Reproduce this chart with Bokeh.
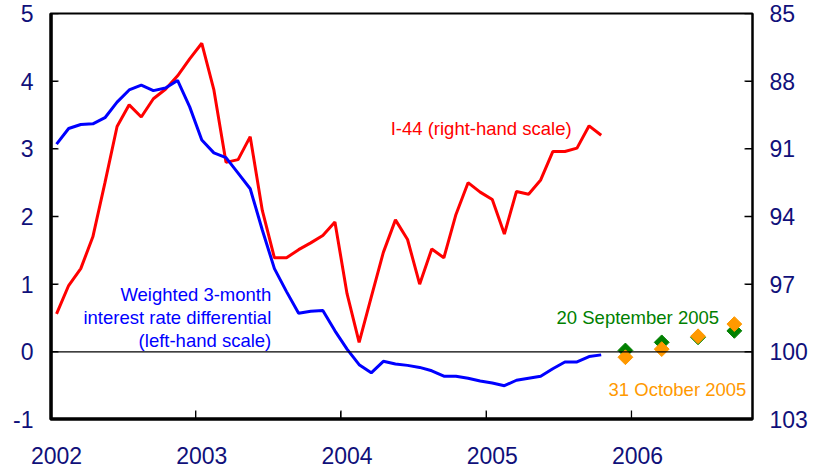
import numpy as np
from bokeh.plotting import figure
from bokeh.models import (Range1d, LinearAxis, FixedTicker, Span, Label,
                          CustomJSTickFormatter, ColumnDataSource)
from bokeh.embed import file_html
from bokeh.resources import INLINE

# ---------------- data ----------------
months = [f"{2002 + k // 12}-{k % 12 + 1:02d}" for k in range(46)]  # Jan 2002 .. Oct 2005

# Weighted 3-month interest rate differential (left-hand scale, %)
rate_diff = [3.07, 3.30, 3.36, 3.37, 3.46, 3.69, 3.87, 3.94, 3.86, 3.90, 4.01, 3.62,
             3.13, 2.94, 2.87, 2.64, 2.41, 1.80, 1.23, 0.89, 0.57, 0.60, 0.61, 0.31,
             0.04, -0.19, -0.31, -0.14, -0.18, -0.20, -0.23, -0.28, -0.36, -0.36, -0.39, -0.43,
             -0.46, -0.50, -0.42, -0.39, -0.36, -0.25, -0.15, -0.15, -0.07, -0.045]

# I-44 index (right-hand scale, inverted)
i44 = [98.32, 97.06, 96.31, 94.90, 92.50, 90.01, 89.05, 89.59, 88.78, 88.36, 87.76, 87.01,
       86.32, 88.39, 91.60, 91.48, 90.46, 93.73, 95.83, 95.83, 95.47, 95.17, 94.84, 94.24,
       97.42, 99.58, 97.57, 95.59, 94.15, 95.02, 97.00, 95.44, 95.83, 93.91, 92.50, 92.92,
       93.25, 94.78, 92.89, 93.01, 92.38, 91.12, 91.12, 90.97, 89.98, 90.40]

forecast_months = ["2005-12", "2006-03", "2006-06", "2006-09"]
fc_20sep = [0.02, 0.14, 0.215, 0.31]
fc_31oct = [-0.08, 0.04, 0.23, 0.41]

year_labels = [2002, 2003, 2004, 2005, 2006]
left_ticks = [-1, 0, 1, 2, 3, 4, 5]
right_ticks = [85, 88, 91, 94, 97, 100, 103]


def to_x(m):
    y, mo = m.split("-")
    return int(y) + (int(mo) - 0.5) / 12


x_hist = [to_x(m) for m in months]
x_fc = [to_x(m) for m in forecast_months]

NAVY = "#10107a"
RED = "#ff0000"
BLUE = "#0000ff"
GREEN = "#008000"
ORANGE = "#ff9900"
FONT = "Liberation Sans"

X0, X1 = 2002, 2006 + 10 / 12
Y0, Y1 = -1, 5
R0, R1 = 103, 85

p = figure(width=814, height=470,
           x_range=Range1d(X0, X1), y_range=Range1d(Y0, Y1),
           output_backend="svg", toolbar_location=None,
           min_border_left=50, min_border_right=62, min_border_top=13, min_border_bottom=51)
p.background_fill_color = "white"
p.border_fill_color = "white"
p.outline_line_color = "black"
p.outline_line_width = 2
p.outline_line_alpha = 1
p.xgrid.visible = False
p.ygrid.visible = False

p.extra_y_ranges = {"i44": Range1d(R0, R1)}

plain = CustomJSTickFormatter(code="return tick.toString();")

# x axis
xa = p.xaxis[0]
xa.ticker = FixedTicker(ticks=[y + 0.5 / 12 for y in year_labels], minor_ticks=year_labels)
xa.formatter = CustomJSTickFormatter(code="return Math.floor(tick).toString();")
xa.major_tick_line_color = None
xa.minor_tick_in = 8
xa.minor_tick_out = 0
xa.minor_tick_line_color = "black"
xa.axis_line_color = "black"
xa.axis_line_width = 2
xa.major_label_text_font = FONT
xa.major_label_text_font_size = "23px"
xa.major_label_text_color = NAVY
xa.major_label_standoff = 21

# left axis
ya = p.yaxis[0]
ya.ticker = FixedTicker(ticks=left_ticks)
ya.formatter = plain
ya.major_tick_in = 7
ya.major_tick_out = 0
ya.major_tick_line_color = "black"
ya.minor_tick_line_color = None
ya.axis_line_color = "black"
ya.axis_line_width = 2
ya.major_label_text_font = FONT
ya.major_label_text_font_size = "23px"
ya.major_label_text_color = NAVY
ya.major_label_standoff = 17

# right axis
ra = LinearAxis(y_range_name="i44", ticker=FixedTicker(ticks=right_ticks), formatter=plain)
ra.major_tick_in = 7
ra.major_tick_out = 0
ra.major_tick_line_color = "black"
ra.minor_tick_line_color = None
ra.axis_line_color = "black"
ra.axis_line_width = 2
ra.major_label_text_font = FONT
ra.major_label_text_font_size = "23px"
ra.major_label_text_color = NAVY
ra.major_label_standoff = 17
p.add_layout(ra, "right")

# frame edges and inward tick marks as line glyphs (NaN-separated), through the ranges
px_x = (X1 - X0) / 702.0     # data units per pixel, x
px_y = (Y1 - Y0) / 406.0     # data units per pixel, left scale
nan = float("nan")

tx, ty = [], []
for yr in year_labels[1:]:
    tx += [yr, yr, nan]
    ty += [Y0, Y0 + 9 * px_y, nan]
for t in left_ticks:
    tx += [X0, X0 + 8 * px_x, nan]
    ty += [t, t, nan]
p.line(tx, ty, line_color="black", line_width=1.3)

rx, ry = [], []
for t in right_ticks:
    rx += [X1 - 8 * px_x, X1, nan]
    ry += [t, t, nan]
p.line(rx, ry, y_range_name="i44", line_color="black", line_width=1.3)

p.line([X0 + 1.2 * px_x, X0 + 1.2 * px_x, X1], [Y1, Y0 + 1.2 * px_y, Y0 + 1.2 * px_y],
       line_color="black", line_width=2.2, line_join="miter")

p.add_layout(Span(location=0, dimension="width", line_color="black", line_width=1.2))

src = ColumnDataSource(dict(x=x_hist, diff=rate_diff, i44=i44))
p.line("x", "i44", source=src, y_range_name="i44", line_color=RED, line_width=3)
p.line("x", "diff", source=src, line_color=BLUE, line_width=3)

fsrc = ColumnDataSource(dict(x=x_fc, sep=fc_20sep, oct=fc_31oct))
p.scatter("x", "sep", source=fsrc, marker="square", angle=np.pi / 4, size=10.5,
          fill_color=GREEN, line_color=GREEN)
p.scatter("x", "oct", source=fsrc, marker="square", angle=np.pi / 4, size=10.5,
          fill_color=ORANGE, line_color=ORANGE)


def lab(x, y, text, color, align):
    p.add_layout(Label(x=x, y=y, text=text, text_color=color, text_font=FONT,
                       text_font_size="18.5px", text_align=align, text_baseline="middle"))


lab(2004.342, 3.295, "I-44 (right-hand scale)", RED, "left")
lab(2003.52, 0.844, "Weighted 3-month", BLUE, "right")
lab(2003.52, 0.511, "interest rate differential", BLUE, "right")
lab(2003.52, 0.167, "(left-hand scale)", BLUE, "right")
lab(2006.603, 0.507, "20 September 2005", GREEN, "right")
lab(2006.791, -0.553, "31 October 2005", ORANGE, "right")

open("out.html", "w").write(file_html(p, INLINE))
